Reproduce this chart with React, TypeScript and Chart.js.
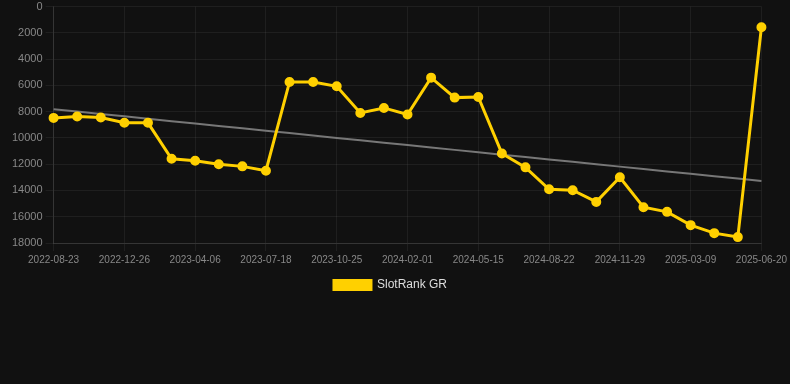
import React, { useEffect, useRef } from "react";
import { Chart, registerables } from "chart.js";

Chart.register(...registerables);

const categories: string[] = [
  "2022-08-23", "2022-09-30", "2022-11-17",
  "2022-12-26", "2023-01-30", "2023-03-04",
  "2023-04-06", "2023-05-10", "2023-06-14",
  "2023-07-18", "2023-08-24", "2023-09-28",
  "2023-10-25", "2023-11-28", "2023-12-30",
  "2024-02-01", "2024-03-08", "2024-04-11",
  "2024-05-15", "2024-06-18", "2024-07-20",
  "2024-08-22", "2024-09-26", "2024-10-28",
  "2024-11-29", "2024-12-31", "2025-02-03",
  "2025-03-09", "2025-04-12", "2025-05-16",
  "2025-06-20",
];

const rankValues: number[] = [
  8475, 8370, 8445, 8850, 8850, 11585, 11735, 12010, 12165, 12495,
  5740, 5740, 6070, 8095, 7715, 8220, 5410, 6930, 6880, 11180,
  12240, 13910, 13985, 14870, 13000, 15275, 15630, 16640, 17250, 17550,
  1570,
];

const yTicks: number[] = [0, 2000, 4000, 6000, 8000, 10000, 12000, 14000, 16000, 18000];

const seriesLabel = "SlotRank GR";

function regression(values: number[]): number[] {
  const n = values.length;
  const mx = (n - 1) / 2;
  const my = values.reduce((a, b) => a + b, 0) / n;
  let num = 0;
  let den = 0;
  values.forEach((v, i) => {
    num += (i - mx) * (v - my);
    den += (i - mx) * (i - mx);
  });
  const slope = num / den;
  return values.map((_, i) => my + slope * (i - mx));
}

const FONT = "'Liberation Sans', Arial, Helvetica, sans-serif";

export default function App() {
  const ref = useRef<HTMLCanvasElement | null>(null);

  useEffect(() => {
    document.body.style.margin = "0";
    document.body.style.background = "#111111";
    if (!ref.current) return;
    const chart = new Chart(ref.current, {
      type: "line",
      data: {
        labels: categories,
        datasets: [
          {
            label: seriesLabel,
            data: rankValues,
            borderColor: "#FFD000",
            backgroundColor: "#FFD000",
            borderWidth: 3,
            pointRadius: 4,
            pointBorderWidth: 2,
            pointHoverRadius: 4,
            pointBackgroundColor: "#FFD000",
            pointBorderColor: "#FFD000",
            tension: 0,
          },
          {
            label: "trend",
            data: regression(rankValues),
            borderColor: "#777777",
            backgroundColor: "#777777",
            borderWidth: 2,
            pointRadius: 0,
            tension: 0,
          },
        ],
      },
      options: {
        animation: false,
        responsive: true,
        maintainAspectRatio: false,
        layout: { padding: { left: 0, right: 18, top: 0, bottom: 0 } },
        plugins: {
          legend: {
            position: "bottom",
            labels: {
              color: "#dddddd",
              font: { family: FONT, size: 12 },
              boxWidth: 37,
              boxHeight: 9,
              filter: (item) => item.text === seriesLabel,
            },
          },
          tooltip: { enabled: false },
        },
        scales: {
          x: {
            grid: { color: "rgba(255,255,255,0.06)", tickColor: "rgba(255,255,255,0.06)" },
            border: { color: "rgba(255,255,255,0.1)" },
            afterBuildTicks: (scale: any) => {
              scale.ticks = scale.ticks.filter((_: any, i: number) => i % 3 === 0);
            },
            ticks: {
              autoSkip: false,
              maxRotation: 0,
              color: "#888888",
              font: { family: FONT, size: 10 },
            },
          },
          y: {
            reverse: true,
            min: 0,
            max: 18000,
            afterBuildTicks: (scale: any) => {
              scale.ticks = yTicks.map((v) => ({ value: v }));
            },
            grid: { color: "rgba(255,255,255,0.06)", tickColor: "rgba(255,255,255,0.06)" },
            border: { color: "rgba(255,255,255,0.1)" },
            ticks: {
              color: "#888888",
              font: { family: FONT, size: 11 },
              callback: (v: any) => String(v),
            },
          },
        },
      },
    });
    return () => chart.destroy();
  }, []);

  return (
    <div style={{ position: "absolute", left: 9, top: -3, width: 781, height: 304, background: "#111111" }}>
      <canvas ref={ref} />
    </div>
  );
}
